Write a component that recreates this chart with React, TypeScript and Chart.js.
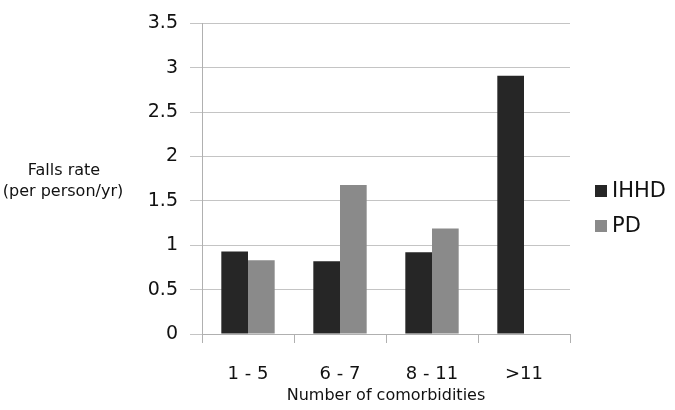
import React, { useEffect, useRef } from "react";
import { Chart, registerables } from "chart.js";

Chart.register(...registerables);

const categories = ["1 - 5", "6 - 7", "8 - 11", ">11"];
const ihhdValues: (number | null)[] = [0.93, 0.82, 0.92, 2.91];
const pdValues: (number | null)[] = [0.83, 1.68, 1.19, null];
const seriesNames = ["IHHD", "PD"];
const seriesColors = ["#262626", "#8a8a8a"];
const yTitleLines = ["Falls rate", "(per person/yr)"];
const xTitle = "Number of comorbidities";

const FONT = "'DejaVu Sans', sans-serif";
const TEXT = "#111111";

const sidePlugin = {
  id: "sideTexts",
  afterDraw(chart: any) {
    const ctx = chart.ctx as CanvasRenderingContext2D;
    ctx.save();
    ctx.fillStyle = TEXT;
    ctx.font = `16px ${FONT}`;
    ctx.textAlign = "center";
    ctx.textBaseline = "middle";
    const midY = (chart.chartArea.top + chart.chartArea.bottom) / 2;
    ctx.fillText(yTitleLines[0], 64, midY - 8);
    ctx.fillText(yTitleLines[1], 63, midY + 13);
    ctx.font = `21px ${FONT}`;
    ctx.textAlign = "left";
    const lx = chart.chartArea.right + 25;
    seriesNames.forEach((name, i) => {
      const cy = 191 + i * 35;
      ctx.fillStyle = seriesColors[i];
      ctx.fillRect(lx, cy - 6, 12, 12);
      ctx.fillStyle = TEXT;
      ctx.fillText(name, lx + 17, cy + 1);
    });
    ctx.restore();
  },
};

export default function App() {
  const canvasRef = useRef<HTMLCanvasElement | null>(null);

  useEffect(() => {
    document.body.style.margin = "0";
    const canvas = canvasRef.current;
    if (!canvas) return;
    const chart = new Chart(canvas, {
      type: "bar",
      data: {
        labels: categories,
        datasets: [
          {
            label: seriesNames[0],
            data: ihhdValues,
            backgroundColor: seriesColors[0],
            categoryPercentage: 0.58,
            barPercentage: 1,
          },
          {
            label: seriesNames[1],
            data: pdValues,
            backgroundColor: seriesColors[1],
            categoryPercentage: 0.58,
            barPercentage: 1,
          },
        ],
      },
      options: {
        animation: false,
        responsive: false,
        maintainAspectRatio: false,
        layout: { padding: { left: 0, right: 105, top: 17, bottom: 0 } },
        plugins: {
          legend: { display: false },
          tooltip: { enabled: false },
        },
        scales: {
          x: {
            grid: {
              display: true,
              drawOnChartArea: false,
              drawTicks: true,
              tickLength: 9,
              color: "#b0b0b0",
              offset: true,
            },
            border: { color: "#b0b0b0", width: 1 },
            ticks: {
              color: TEXT,
              font: { family: FONT, size: 18 },
              padding: 21,
            },
            title: {
              display: true,
              text: xTitle,
              color: TEXT,
              font: { family: FONT, size: 16 },
              padding: { top: 0, bottom: 5 },
            },
            afterFit: (s: any) => {
              s.height = 76;
            },
          },
          y: {
            min: 0,
            max: 3.5,
            ticks: {
              stepSize: 0.5,
              color: TEXT,
              font: { family: FONT, size: 19 },
              padding: 12,
              callback: (v: any) => String(Number(v)),
            },
            grid: {
              color: "#c4c4c4",
              drawTicks: true,
              tickLength: 12,
            },
            border: { color: "#b0b0b0", width: 1 },
            afterFit: (s: any) => {
              s.width = 202;
            },
          },
        },
      },
      plugins: [sidePlugin],
    });
    return () => chart.destroy();
  }, []);

  return (
    <div style={{ width: 675, height: 410, background: "#fff" }}>
      <canvas ref={canvasRef} width={675} height={410} style={{ display: "block" }} />
    </div>
  );
}
